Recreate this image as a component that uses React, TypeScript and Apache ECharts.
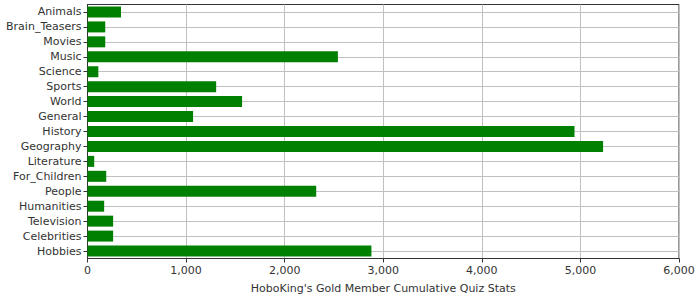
import React, { useEffect, useRef } from "react";
import * as echarts from "echarts";

const categories = [
  "Animals", "Brain_Teasers", "Movies", "Music", "Science", "Sports", "World",
  "General", "History", "Geography", "Literature", "For_Children", "People",
  "Humanities", "Television", "Celebrities", "Hobbies",
];
const quizValues = [
  340, 180, 180, 2540, 110, 1305, 1568, 1071, 4940, 5230, 68, 190, 2320, 169, 260, 260, 2880,
];
const xAxisTitle = "HoboKing's Gold Member Cumulative Quiz Stats";

export default function App() {
  const ref = useRef<HTMLDivElement>(null);
  useEffect(() => {
    if (!ref.current) return;
    const chart = echarts.init(ref.current, undefined, { renderer: "svg" });
    const font = "DejaVu Sans";
    chart.setOption({
      animation: false,
      backgroundColor: "#ffffff",
      textStyle: { fontFamily: font },
      grid: {
        left: 87.5,
        right: 21,
        top: 4.5,
        bottom: 41.5,
        show: true,
        borderColor: "#333333",
        borderWidth: 1,
        backgroundColor: "transparent",
      },
      xAxis: {
        type: "value",
        min: 0,
        max: 6000,
        interval: 1000,
        name: xAxisTitle,
        nameLocation: "middle",
        nameGap: 24,
        nameTextStyle: { fontFamily: font, fontSize: 11, color: "#333333" },
        axisLine: { show: true, lineStyle: { color: "#333333" } },
        axisTick: { show: true, length: 4, lineStyle: { color: "#333333" } },
        axisLabel: {
          fontFamily: font,
          fontSize: 11,
          color: "#333333",
          margin: 6,
          formatter: (v: number) => v.toLocaleString("en-US"),
        },
        splitLine: { show: true, lineStyle: { color: "#c0c0c0", width: 1 } },
      },
      yAxis: {
        type: "category",
        data: categories,
        inverse: true,
        axisLine: { show: true, lineStyle: { color: "#333333" } },
        axisTick: { show: true, length: 4, alignWithLabel: true, lineStyle: { color: "#333333" } },
        axisLabel: { fontFamily: font, fontSize: 11, color: "#333333", margin: 6, interval: 0 },
        splitLine: {
          show: true,
          alignWithLabel: true,
          lineStyle: { color: "#c0c0c0", width: 1 },
        },
      },
      series: [
        {
          type: "bar",
          data: quizValues,
          barWidth: 11,
          itemStyle: { color: "#008000" },
        },
      ],
    });
    return () => chart.dispose();
  }, []);
  return (
    <div
      ref={ref}
      style={{ position: "fixed", left: 0, top: 0, width: 700, height: 300 }}
    />
  );
}
